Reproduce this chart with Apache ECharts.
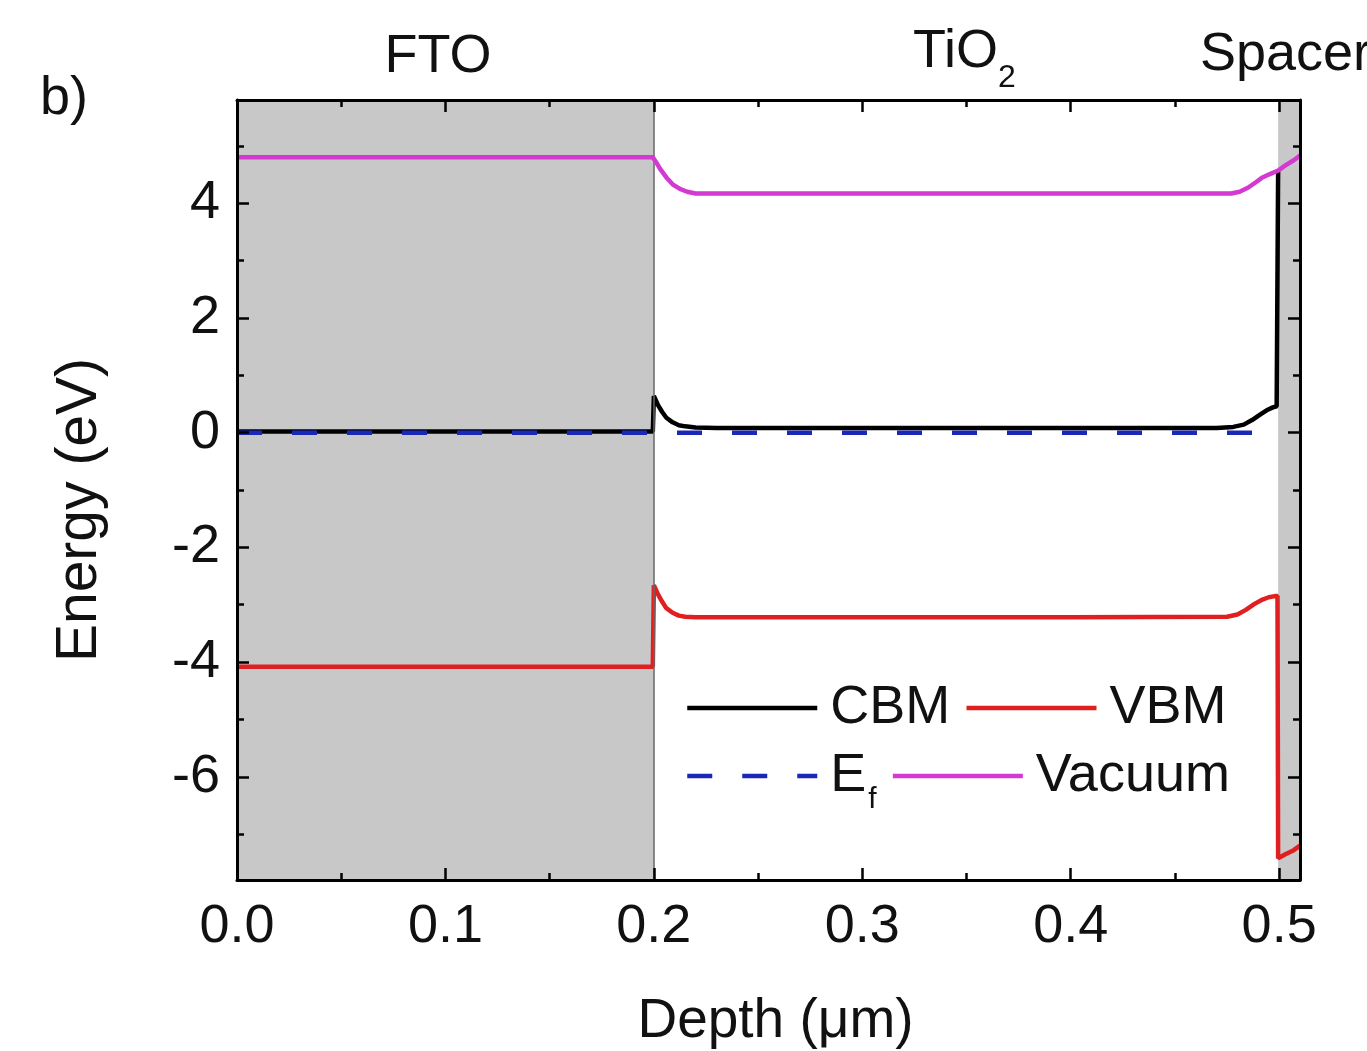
<!DOCTYPE html>
<html>
<head>
<meta charset="utf-8">
<script src="https://cdn.jsdelivr.net/npm/echarts@6/dist/echarts.min.js"></script>
<style>
html,body{margin:0;padding:0;background:#fff;}
#chart{width:1367px;height:1051px;}
</style>
</head>
<body>
<div id="chart"></div>
<script>
// ---- data ----
const cbmX = [0, 0.1, 0.1995, 0.2, 0.202, 0.204, 0.206, 0.209, 0.212, 0.215, 0.22, 0.23, 0.3, 0.4, 0.47, 0.478, 0.483, 0.487, 0.491, 0.494, 0.497, 0.4988, 0.4992, 0.4995];
const cbmY = [0.02, 0.02, 0.02, 0.64, 0.48, 0.36, 0.26, 0.18, 0.13, 0.11, 0.09, 0.08, 0.08, 0.08, 0.08, 0.10, 0.14, 0.22, 0.32, 0.39, 0.44, 0.46, 0.47, 4.55];

const vbmX = [0, 0.1, 0.1995, 0.2, 0.202, 0.204, 0.206, 0.209, 0.212, 0.215, 0.22, 0.3, 0.4, 0.475, 0.48, 0.484, 0.488, 0.492, 0.495, 0.498, 0.4992, 0.4995, 0.503, 0.507, 0.51];
const vbmY = [-4.08, -4.08, -4.08, -2.66, -2.82, -2.95, -3.06, -3.14, -3.19, -3.21, -3.22, -3.22, -3.22, -3.21, -3.17, -3.09, -2.99, -2.91, -2.87, -2.85, -2.85, -7.42, -7.35, -7.28, -7.20];

const efX = [0, 0.496];
const efY = [0, 0];

const vacX = [0, 0.1, 0.1995, 0.201, 0.203, 0.206, 0.209, 0.2125, 0.216, 0.22, 0.3, 0.4, 0.477, 0.481, 0.485, 0.489, 0.492, 0.495, 0.4995, 0.503, 0.507, 0.51];
const vacY = [4.80, 4.80, 4.80, 4.72, 4.60, 4.45, 4.33, 4.25, 4.20, 4.17, 4.17, 4.17, 4.17, 4.20, 4.27, 4.37, 4.45, 4.50, 4.57, 4.66, 4.75, 4.83];

const xMajor = [0, 0.1, 0.2, 0.3, 0.4, 0.5];
const xMinor = [0.05, 0.15, 0.25, 0.35, 0.45];
const yMajor = [-6, -4, -2, 0, 2, 4];
const yMinor = [-7, -5, -3, -1, 1, 3, 5];

const regionFTO = [0, 0.2];
const regionSpacer = [0.4995, 0.51];
const layerNames = ['FTO', 'TiO', 'Spacer'];
const seriesNames = ['CBM', 'VBM', 'Ef', 'Vacuum'];

// ---- chart ----
const FONT = 'Liberation Sans, Arial, sans-serif';
const FS = 54;
const LW = 4.5;
const XMIN = 0, XMAX = 0.51, YMIN = -7.8, YMAX = 5.8;

function zip(a, b) { return a.map((v, i) => [v, b[i]]); }

function xAx(pos, vals, len, main) {
  return {
    type: 'value', position: pos, min: XMIN, max: XMAX, z: 10,
    axisLine: { show: main, onZero: false, lineStyle: { color: '#000', width: 3 } },
    axisTick: { show: true, inside: true, length: len, customValues: vals, lineStyle: { color: '#000', width: 2.5 } },
    axisLabel: (pos === 'bottom' && main) ? {
      show: true, customValues: xMajor, margin: 20, color: '#111', fontSize: FS, fontFamily: FONT,
      formatter: v => v.toFixed(1)
    } : { show: false },
    splitLine: { show: false },
    name: (pos === 'bottom' && main) ? 'Depth (\u03bcm)' : '',
    nameLocation: 'middle', nameGap: 114,
    nameTextStyle: { color: '#111', fontSize: 55, fontFamily: FONT, padding: [0, 0, 0, 14] }
  };
}
function yAx(pos, vals, len, main) {
  return {
    type: 'value', position: pos, min: YMIN, max: YMAX, z: 10,
    axisLine: { show: main, onZero: false, lineStyle: { color: '#000', width: 3 } },
    axisTick: { show: true, inside: true, length: len, customValues: vals, lineStyle: { color: '#000', width: 2.5 } },
    axisLabel: (pos === 'left' && main) ? {
      show: true, customValues: yMajor, margin: 17, color: '#111', fontSize: FS, fontFamily: FONT
    } : { show: false },
    splitLine: { show: false },
    name: (pos === 'left' && main) ? 'Energy (eV)' : '',
    nameLocation: 'middle', nameGap: 128,
    nameTextStyle: { color: '#111', fontSize: 57, fontFamily: FONT, padding: [0, 40, 0, 0] }
  };
}

const chart = echarts.init(document.getElementById('chart'), null, { renderer: 'canvas' });

const lineBase = { type: 'line', showSymbol: false, symbol: 'none', xAxisIndex: 0, yAxisIndex: 0, animation: false };

chart.setOption({
  backgroundColor: '#fff',
  animation: false,
  grid: { left: 237, top: 100, width: 1063, height: 780, containLabel: false, outerBoundsMode: 'none' },
  xAxis: [
    xAx('bottom', xMajor, 12, true),
    xAx('bottom', xMinor, 7, false),
    xAx('top', xMajor, 12, true),
    xAx('top', xMinor, 7, false)
  ],
  yAxis: [
    yAx('left', yMajor, 12, true),
    yAx('left', yMinor, 7, false),
    yAx('right', yMajor, 12, true),
    yAx('right', yMinor, 7, false)
  ],
  legend: {
    left: 685, top: 681, width: 600, padding: 0,
    itemWidth: 130, itemHeight: 14, itemGap: 14,
    data: seriesNames,
    selectedMode: false,
    itemStyle: { opacity: 0 },
    lineStyle: { width: LW },
    formatter: function (name) {
      if (name === 'Ef') return '{n|E}{s|f}';
      return '{n|' + name + '}';
    },
    textStyle: {
      color: '#111', fontFamily: FONT, fontSize: FS, lineHeight: 54,
      rich: {
        n: { fontSize: FS, fontFamily: FONT, color: '#111', lineHeight: 54, padding: [0, 0, 0, 8] },
        s: { fontSize: 30, fontFamily: FONT, color: '#111', lineHeight: 30, padding: [48, 0, 0, 2] }
      }
    }
  },
  graphic: [
    { type: 'text', left: 40, top: 72, style: { text: 'b)', font: FS + 'px ' + FONT, fill: '#111' } },
    { type: 'text', x: 438, y: 57, style: { text: layerNames[0], font: FS + 'px ' + FONT, fill: '#111', align: 'center', verticalAlign: 'middle' } },
    { type: 'text', x: 913, y: 52, style: {
        text: '{a|' + layerNames[1] + '}{b|2}', align: 'left', verticalAlign: 'middle',
        rich: {
          a: { fontSize: FS, fontFamily: FONT, fill: '#111', color: '#111' },
          b: { fontSize: 32, fontFamily: FONT, fill: '#111', color: '#111', padding: [52, 0, 0, 0] }
        }
      } },
    { type: 'text', x: 1200, y: 55, style: { text: layerNames[2], font: FS + 'px ' + FONT, fill: '#111', align: 'left', verticalAlign: 'middle' } }
  ],
  series: [
    Object.assign({}, lineBase, {
      name: 'CBM', data: zip(cbmX, cbmY), z: 3,
      lineStyle: { color: '#000', width: LW }, itemStyle: { color: '#000' },
      markArea: {
        silent: true,
        itemStyle: { color: '#c8c8c8' },
        data: [
          [{ xAxis: regionFTO[0] }, { xAxis: regionFTO[1] }],
          [{ xAxis: regionSpacer[0] }, { xAxis: regionSpacer[1] }]
        ]
      },
      markLine: {
        silent: true, symbol: 'none', label: { show: false },
        lineStyle: { color: '#666', width: 1.5, type: 'solid' },
        data: [{ xAxis: regionFTO[1] }]
      }
    }),
    Object.assign({}, lineBase, {
      name: 'VBM', data: zip(vbmX, vbmY), z: 3,
      lineStyle: { color: '#e02020', width: LW }, itemStyle: { color: '#e02020' }
    }),
    Object.assign({}, lineBase, {
      name: 'Ef', data: zip(efX, efY), z: 4,
      lineStyle: { color: '#1a28b8', width: LW, type: [25, 30] }, itemStyle: { color: '#1a28b8' }
    }),
    Object.assign({}, lineBase, {
      name: 'Vacuum', data: zip(vacX, vacY), z: 5,
      lineStyle: { color: '#d23ad2', width: LW }, itemStyle: { color: '#d23ad2' }
    })
  ]
});
</script>
</body>
</html>
